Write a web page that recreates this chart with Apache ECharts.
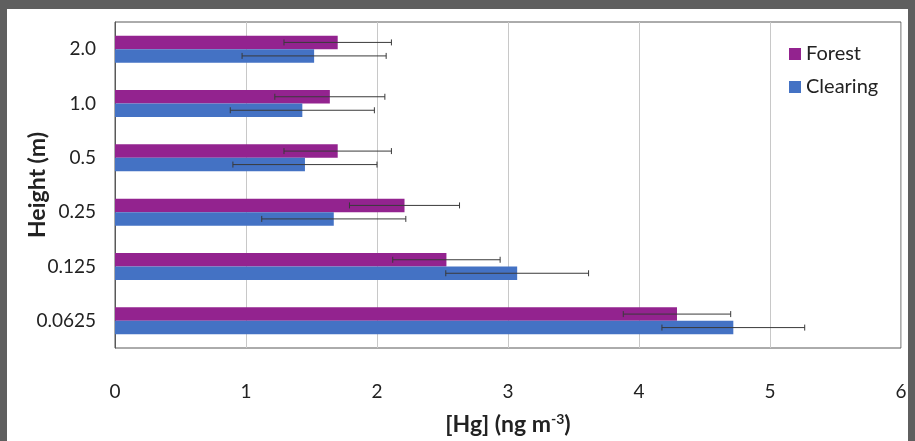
<!DOCTYPE html>
<html>
<head>
<meta charset="utf-8">
<script src="https://cdn.jsdelivr.net/npm/echarts@6/dist/echarts.min.js"></script>
<style>
	html, body { margin: 0; padding: 0; background: #5f5f5f; }
	#chart { position: absolute; left: 7px; top: 9px; width: 901px; height: 432px; background: #fff; }
</style>
</head>
<body>
<div id="chart"></div>
<script>
// heights, bottom to top
const heights = ['0.0625', '0.125', '0.25', '0.5', '1.0', '2.0'];
const forest = [4.29, 2.53, 2.21, 1.70, 1.64, 1.70];
const forestErr = [0.41, 0.41, 0.42, 0.41, 0.42, 0.41];
const clearing = [4.72, 3.07, 1.67, 1.45, 1.43, 1.52];
const clearingErr = [0.545, 0.545, 0.55, 0.55, 0.55, 0.55];

const FONT = 'Lato';
const BAR = 13.5;

let chart = echarts.init(document.getElementById('chart'));

// 误差线
const errSeries = (vals, errs, shift) => ({
	type: 'custom',
	silent: true,
	z: 5,
	data: vals.map((v, i) => [v, i, errs[i]]),
	encode: { x: 0, y: 1 },
	renderItem: (params, api) => {
		const v = api.value(0), i = api.value(1), e = api.value(2);
		const lo = api.coord([v - e, i]);
		const hi = api.coord([v + e, i]);
		const y = lo[1] + shift;
		const s = { stroke: '#3a3a3a', lineWidth: 1 };
		return {
			type: 'group',
			children: [
				{ type: 'line', shape: { x1: lo[0], y1: y, x2: hi[0], y2: y }, style: s },
				{ type: 'line', shape: { x1: lo[0], y1: y - 3, x2: lo[0], y2: y + 3 }, style: s },
				{ type: 'line', shape: { x1: hi[0], y1: y - 3, x2: hi[0], y2: y + 3 }, style: s },
			],
		};
	},
});

let option = {
	animation: false,
	textStyle: { fontFamily: FONT },
	legend: {
		data: ['Forest', 'Clearing'],
		orient: 'vertical',
		left: 777,
		top: 30,
		itemWidth: 12,
		itemHeight: 12,
		itemGap: 13,
		icon: 'rect',
		textStyle: { fontSize: 20, color: '#222', fontFamily: FONT },
	},
	grid: {
		left: 108,
		top: 13,
		width: 786,
		height: 326,
		outerBoundsMode: 'none',
		containLabel: false,
		show: true,
		borderColor: '#595959',
		borderWidth: 1,
	},
	xAxis: {
		type: 'value',
		min: 0,
		max: 6,
		interval: 1,
		axisLine: { show: false },
		axisTick: { show: false },
		axisLabel: { fontSize: 19, color: '#222', margin: 34, fontFamily: FONT },
		splitLine: { show: true, lineStyle: { color: '#c8c8c8', width: 1 } },
		name: '[Hg] (ng m{sup|-3})',
		nameLocation: 'middle',
		nameGap: 64,
		nameMoveOverlap: false,
		nameTextStyle: {
			fontSize: 23,
			fontWeight: 'bold',
			color: '#222',
			fontFamily: FONT,
			rich: {
				sup: { fontSize: 14, fontWeight: 'bold', color: '#222', padding: [0, 0, 11, 0], fontFamily: FONT },
			},
		},
	},
	yAxis: {
		type: 'category',
		data: heights,
		axisLine: { show: true, lineStyle: { color: '#595959' } },
		axisTick: { show: false },
		axisLabel: { fontSize: 19, color: '#222', margin: 19, fontFamily: FONT },
		name: 'Height (m)',
		nameLocation: 'middle',
		nameGap: 66,
		nameMoveOverlap: false,
		nameRotate: 90,
		nameTextStyle: { fontSize: 23, fontWeight: 'bold', color: '#222', fontFamily: FONT },
	},
	series: [
		{
			name: 'Forest',
			type: 'bar',
			data: forest,
			barWidth: BAR,
			barGap: '0%',
			itemStyle: { color: '#93238f' },
		},
		{
			name: 'Clearing',
			type: 'bar',
			data: clearing,
			barWidth: BAR,
			barGap: '0%',
			itemStyle: { color: '#4472c4' },
		},
		errSeries(forest, forestErr, -BAR / 2),
		errSeries(clearing, clearingErr, BAR / 2),
	],
};

chart.setOption(option);
</script>
</body>
</html>
